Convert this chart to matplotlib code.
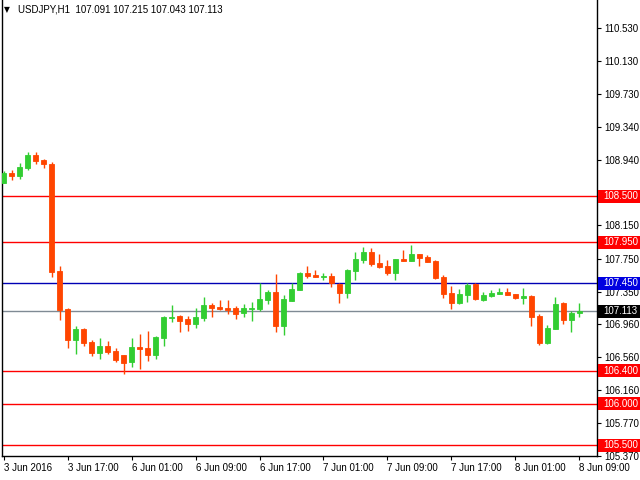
import matplotlib
matplotlib.use("Agg")
import matplotlib.pyplot as plt
from matplotlib.patches import Rectangle

plt.rcParams['font.family'] = ['Liberation Sans', 'DejaVu Sans']

# USDJPY H1 candles, 3 Jun 09:00 .. 8 Jun 09:00
opens = [108.665, 108.781, 108.749, 108.846, 108.998, 108.938, 108.890, 107.600, 107.142, 106.772,
         106.901, 106.744, 106.615, 106.696, 106.635, 106.587, 106.507, 106.688, 106.672, 106.587,
         106.796, 107.037, 107.057, 107.021, 106.965, 107.036, 107.189, 107.165, 107.153, 107.153,
         107.097, 107.145, 107.141, 107.249, 107.346, 106.936, 107.237, 107.370, 107.574, 107.550,
         107.530, 107.538, 107.442, 107.334, 107.599, 107.731, 107.828, 107.695, 107.659, 107.574,
         107.742, 107.722, 107.802, 107.766, 107.718, 107.526, 107.334, 107.218, 107.310, 107.442,
         107.254, 107.302, 107.326, 107.346, 107.322, 107.278, 107.298, 107.058, 106.738, 106.906,
         107.214, 107.014, 107.091]
highs = [108.805, 108.817, 108.902, 109.038, 109.034, 108.954, 108.914, 107.660, 107.150, 106.937,
         106.917, 106.768, 106.792, 106.756, 106.672, 106.587, 106.792, 106.840, 106.877, 106.816,
         107.057, 107.190, 107.069, 107.057, 107.154, 107.285, 107.213, 107.249, 107.249, 107.177,
         107.201, 107.225, 107.450, 107.370, 107.562, 107.309, 107.454, 107.587, 107.659, 107.611,
         107.574, 107.574, 107.454, 107.623, 107.828, 107.888, 107.876, 107.803, 107.731, 107.743,
         107.850, 107.910, 107.802, 107.790, 107.730, 107.550, 107.418, 107.382, 107.454, 107.454,
         107.346, 107.370, 107.394, 107.394, 107.322, 107.394, 107.310, 107.082, 106.950, 107.286,
         107.226, 107.114, 107.215]
lows = [108.665, 108.701, 108.713, 108.821, 108.894, 108.846, 107.532, 107.013, 106.676, 106.603,
        106.696, 106.575, 106.543, 106.603, 106.503, 106.362, 106.447, 106.422, 106.519, 106.543,
        106.700, 106.989, 106.868, 106.881, 106.917, 106.996, 107.044, 107.129, 107.085, 107.024,
        107.044, 107.000, 107.117, 107.201, 106.864, 106.828, 107.237, 107.370, 107.514, 107.530,
        107.490, 107.406, 107.213, 107.273, 107.490, 107.695, 107.659, 107.635, 107.550, 107.490,
        107.722, 107.722, 107.658, 107.710, 107.506, 107.278, 107.146, 107.206, 107.230, 107.254,
        107.242, 107.290, 107.326, 107.310, 107.266, 107.206, 106.942, 106.714, 106.726, 106.906,
        106.966, 106.870, 107.043]
closes = [108.785, 108.749, 108.854, 108.998, 108.930, 108.886, 107.592, 107.134, 106.772, 106.901,
          106.736, 106.615, 106.696, 106.627, 106.531, 106.495, 106.684, 106.664, 106.587, 106.804,
          107.045, 107.045, 107.001, 106.965, 107.045, 107.189, 107.157, 107.141, 107.133, 107.085,
          107.153, 107.153, 107.261, 107.346, 106.936, 107.261, 107.382, 107.574, 107.538, 107.530,
          107.538, 107.454, 107.338, 107.611, 107.743, 107.828, 107.683, 107.647, 107.574, 107.742,
          107.722, 107.802, 107.758, 107.710, 107.518, 107.326, 107.218, 107.322, 107.430, 107.266,
          107.310, 107.334, 107.346, 107.310, 107.278, 107.298, 107.050, 106.738, 106.914, 107.202,
          107.014, 107.094, 107.113]

tick_labels = ["3 Jun 2016", "3 Jun 17:00", "6 Jun 01:00", "6 Jun 09:00", "6 Jun 17:00",
               "7 Jun 01:00", "7 Jun 09:00", "7 Jun 17:00", "8 Jun 01:00", "8 Jun 09:00"]
price_ticks = [110.530, 110.130, 109.730, 109.340, 108.940, 108.150, 107.750, 107.350,
               106.960, 106.560, 106.160, 105.770, 105.370]
red_levels = [108.500, 107.950, 106.400, 106.000, 105.500]
blue_level = 107.450
last_price = 107.113

bull = "#32cd32"
bear = "#ff4500"

W, H = 640, 480
fig = plt.figure(figsize=(6.4, 4.8), dpi=100)
ax = fig.add_axes([2 / W, 24 / H, 595 / W, 456 / H])

n = len(opens)
for i in range(n):
    c = bull if closes[i] >= opens[i] else bear
    ax.vlines(i, lows[i], highs[i], color=c, linewidth=1.0, zorder=3)
    lo = min(opens[i], closes[i])
    h = abs(closes[i] - opens[i])
    ax.bar(i, h, bottom=lo, width=0.6, color=c, edgecolor=c, linewidth=0.6, zorder=4)

# horizontal levels
for lv in red_levels:
    ax.axhline(lv, color="#ff0000", linewidth=1.0, zorder=2)
ax.axhline(blue_level, color="#0000b4", linewidth=1.0, zorder=2)
ax.axhline(last_price, color="#7f8a94", linewidth=1.0, zorder=2)

ax.set_xlim(-0.19, 74.19)
ax.set_ylim(105.370, 110.868)

ax.spines["top"].set_visible(False)
for s in ["left", "right", "bottom"]:
    ax.spines[s].set_linewidth(1.0)
    ax.spines[s].set_color("black")

ax.yaxis.tick_right()
ax.set_yticks(price_ticks)
ax.set_yticklabels(["%.3f" % p for p in price_ticks])
ax.set_xticks(list(range(0, n, 8)))
ax.set_xticklabels(tick_labels, ha="left")
ax.tick_params(axis="both", labelsize=7, length=3, width=0.8, colors="black", pad=2)

# price boxes on the right axis
def price_box(y, bg):
    ypx = ax.transData.transform((0, y))[1]
    fig.patches.append(Rectangle((598 / W, (ypx - 6.5) / H), 42 / W, 13 / H,
                                 transform=fig.transFigure, facecolor=bg,
                                 edgecolor="none", zorder=10))
    fig.text(603 / W, ypx / H, "%.3f" % y, fontsize=7, color="white",
             va="center", ha="left", zorder=11)

for lv in red_levels:
    price_box(lv, "#ff0000")
price_box(blue_level, "#0000e0")
price_box(last_price, "#000000")

fig.text(4 / W, 1 - 10 / H, "\u25bc", fontsize=5.5, va="center", ha="left",
         color="black", family="DejaVu Sans")
fig.text(18 / W, 1 - 10 / H, "USDJPY,H1  107.091 107.215 107.043 107.113",
         fontsize=7, va="center", ha="left", color="black")

fig.savefig("out.png", dpi=100)
